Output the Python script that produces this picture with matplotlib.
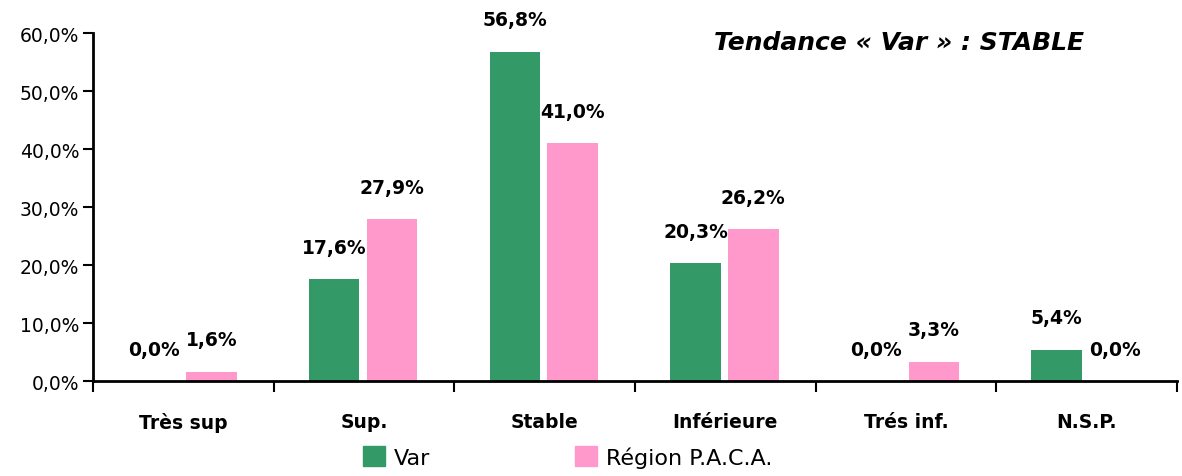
import numpy as np
import matplotlib.pyplot as plt
from matplotlib.patches import Patch

categories = ['Très sup', 'Sup.', 'Stable', 'Inférieure', 'Trés inf.', 'N.S.P.']
var_vals = [0.0, 17.6, 56.8, 20.3, 0.0, 5.4]
paca_vals = [1.6, 27.9, 41.0, 26.2, 3.3, 0.0]
series_names = ['Var', 'Région P.A.C.A.']
title = 'Tendance « Var » : STABLE'

green = '#339966'
pink = '#FF99CC'

fig = plt.figure(figsize=(11.82, 4.77), dpi=100)
ax = fig.add_axes([0.0787, 0.199, 0.917, 0.7296])

x = np.arange(len(categories))
w = 0.28
ax.bar(x - 0.165, var_vals, w, color=green)
ax.bar(x + 0.155, paca_vals, w, color=pink)

def fmt(v):
    return f'{v:.1f}%'.replace('.', ',')

for xi, v in zip(x, var_vals):
    ax.annotate(fmt(v), (xi - 0.165, v), xytext=(0, 23), textcoords='offset points',
                ha='center', va='center', fontsize=13.5, fontweight='bold')
for xi, v in zip(x, paca_vals):
    ax.annotate(fmt(v), (xi + 0.155, v), xytext=(0, 23), textcoords='offset points',
                ha='center', va='center', fontsize=13.5, fontweight='bold')

ax.set_xlim(-0.5, len(categories) - 0.5)
ax.set_ylim(0, 60)
ax.set_yticks(np.arange(0, 61, 10))
ax.set_yticklabels([fmt(t) for t in np.arange(0, 61, 10)], fontsize=13.5)
ax.set_xticks(np.arange(-0.5, len(categories), 1))
ax.set_xticklabels([])
ax.set_xticks(x, minor=True)
ax.set_xticklabels(categories, minor=True, fontsize=13.5, fontweight='bold')
ax.tick_params(axis='x', which='major', length=8, width=1.5, direction='out')
ax.tick_params(axis='x', which='minor', length=0, pad=22)
ax.tick_params(axis='y', length=7, width=1.5, direction='out', pad=3)

for s in ['top', 'right']:
    ax.spines[s].set_visible(False)
ax.spines['left'].set_linewidth(2)
ax.spines['bottom'].set_linewidth(2)

fig.text(0.761, 0.91, title, ha='center', va='center', fontsize=18,
         fontweight='bold', fontstyle='italic')

handles = [Patch(color=green), Patch(color=pink)]
fig.legend(handles, series_names, loc='center', bbox_to_anchor=(0.48, 0.04),
           ncol=2, frameon=False, fontsize=16, handlelength=1.0, handleheight=1.0,
           columnspacing=6.5, handletextpad=0.4)

fig.savefig('out.png', dpi=100)
